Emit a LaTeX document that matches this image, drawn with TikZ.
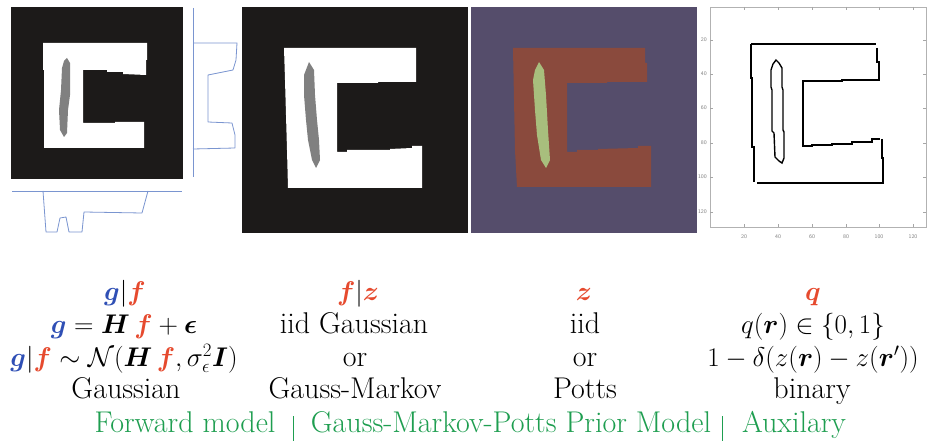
\RequirePackage{fix-cm}
\documentclass[tikz,border=0pt]{standalone}
\usepackage{amsmath,bm}
\definecolor{imgblack}{HTML}{1C1A19}
\definecolor{bargrey}{HTML}{808080}
\definecolor{plum}{HTML}{554D6B}
\definecolor{brick}{HTML}{8A4A3D}
\definecolor{sage}{HTML}{A8BE7D}
\definecolor{gblue}{HTML}{2F4FB5}
\definecolor{fred}{HTML}{E64A2E}
\definecolor{tgreen}{HTML}{1E9E50}
\definecolor{proj}{HTML}{7A95D0}
\tikzset{
  txt/.style={inner sep=0pt, anchor=base, font=\fontsize{30}{34}\selectfont},
  mtxt/.style={inner sep=0pt, anchor=base, font=\fontsize{27}{32}\selectfont},
  gtxt/.style={txt, text=tgreen},
  tick/.style={draw=gray!70, line width=0.5pt},
  ticklab/.style={inner sep=0pt, font=\sffamily\fontsize{5.5}{6}\selectfont, text=gray},
  projline/.style={draw=proj, line width=0.8pt, line join=round},
  contour/.style={draw=black, line width=1.7pt, line join=miter},
  sepline/.style={draw=tgreen, line width=0.8pt}
}
\begin{document}
\begin{tikzpicture}[x=1pt,y=-1pt]
\useasboundingbox (0,0) rectangle (927,441);
\fill[white] (0,0) rectangle (927,441);

% ---------- image 1 ----------
\fill[imgblack] (11,7) rectangle (183,179);
\fill[white] (43,43) -- (147,43) -- (147,60) -- (146,60) -- (146,75) -- (123,74) -- (123,72) -- (107,72) -- (107,70) -- (83,70) -- (83,123) -- (115,123) -- (115,122) -- (144,122) -- (144,148) -- (44,148) -- (44,70) -- (43,70) -- cycle;
\fill[bargrey] (67,58) -- (70,63) -- (70,95) -- (68,110) -- (67,133) -- (64,137) -- (60,130) -- (59,110) -- (61,90) -- (62,68) -- (64,61) -- cycle;
% projections
\draw[projline] (193,8) -- (193,177);
\draw[projline] (193,43) -- (237,43) -- (236,60) -- (233,70) -- (208,75) -- (208,122) -- (232,123) -- (235,135) -- (235,148) -- (193,149);
\draw[projline] (12,191) -- (182,191);
\draw[projline] (43,191) -- (46,232) -- (57,232) -- (60,218) -- (66,217) -- (69,232) -- (82,232) -- (84,212) -- (142,213) -- (148,191);

% ---------- image 2 ----------
\fill[imgblack] (242,7) rectangle (468,233);
\fill[white] (284,48) -- (416,48) -- (416,82) -- (378,82) -- (378,83) -- (337,83) -- (337,152) -- (347,152) -- (347,150) -- (390,150) -- (390,149) -- (412,148) -- (412,146) -- (422,146) -- (422,188) -- (288,188) -- (287,150) -- (285,80) -- cycle;
\fill[bargrey] (309,62) -- (314,70) -- (315,95) -- (317,120) -- (319,140) -- (320,160) -- (316,168) -- (312,160) -- (308,140) -- (306,120) -- (304,95) -- (304,75) -- cycle;

% ---------- image 3 ----------
\fill[plum] (471,7) rectangle (697,233);
\fill[brick] (513,48) -- (645,48) -- (645,63) -- (647,63) -- (647,82) -- (607,82) -- (607,83) -- (567,83) -- (567,152) -- (577,152) -- (577,150) -- (598,150) -- (598,149) -- (638,148) -- (638,146) -- (651,146) -- (651,187) -- (517,187) -- (515,150) -- cycle;
\fill[sage] (539,62) -- (544,70) -- (546,95) -- (548,130) -- (550,160) -- (546,168) -- (541,160) -- (537,135) -- (535,110) -- (533,80) -- (535,70) -- cycle;

% ---------- image 4 (plot) ----------
\draw[gray!60, line width=0.6pt] (710,7) rectangle (926,227);
\foreach \yy/\lab in {40/20,74/40,108/60,143/80,177/100,212/120}{
  \draw[tick] (710,\yy) -- (713,\yy);
  \draw[tick] (926,\yy) -- (923,\yy);
  \node[ticklab, anchor=east] at (707,\yy) {\lab};
}
\foreach \xx/\lab in {744/20,778/40,812/60,846/80,879/100,913/120}{
  \draw[tick] (\xx,227) -- (\xx,224);
  \draw[tick] (\xx,7) -- (\xx,10);
  \node[ticklab] at (\xx,237) {\lab};
}
\draw[contour] (751,44) -- (876,44);
\draw[contour] (877,48) -- (877,62) -- (879,62) -- (879,80) -- (842,80) -- (842,81) -- (803,81) -- (803,146) -- (812,146) -- (812,145) -- (832,145) -- (832,144) -- (852,144) -- (852,142) -- (872,142) -- (872,139) -- (880,139);
\draw[contour] (882,139) -- (882,158) -- (883,158) -- (883,183) -- (757,183);
\draw[contour] (754,182) -- (754,147) -- (752,147) -- (752,78) -- (751,78) -- (751,44);
\draw[contour, line width=1.4pt] (776,60) -- (779,63) -- (782,68) -- (782,87) -- (783,90) -- (783,130) -- (784,132) -- (784,158) -- (782,163) -- (779,161) -- (775,157) -- (774,133) -- (772,131) -- (772,90) -- (771,87) -- (771,70) -- (773,64) -- cycle;

% ---------- text table ----------
\node[mtxt] (c1r1) at (125,300) {$\textcolor{gblue}{\bm g}|\textcolor{fred}{\bm f}$};
\node[mtxt] (c1r2) at (124,333) {$\textcolor{gblue}{\bm g} = \bm{H}\,\textcolor{fred}{\bm f} + \bm{\epsilon}$};
\node[mtxt] (c1r3) at (124,366) {$\textcolor{gblue}{\bm g}|\textcolor{fred}{\bm f} \sim \mathcal{N}(\bm{H}\,\textcolor{fred}{\bm f},\sigma_\epsilon^2\bm{I})$};
\node[txt] (c1r4) at (126,398) {Gaussian};

\node[mtxt] (c2r1) at (358,300) {$\textcolor{fred}{\bm f}|\textcolor{fred}{\bm z}$};
\node[txt] (c2r2) at (354,333) {iid Gaussian};
\node[txt] (c2r3) at (355,366) {or};
\node[txt] (c2r4) at (355,398) {Gauss-Markov};

\node[mtxt] (c3r1) at (584,300) {$\textcolor{fred}{\bm z}$};
\node[txt] (c3r2) at (585,333) {iid};
\node[txt] (c3r3) at (585,366) {or};
\node[txt] (c3r4) at (585,398) {Potts};

\node[mtxt] (c4r1) at (813,300) {$\textcolor{fred}{\bm q}$};
\node[mtxt] (c4r2) at (813,333) {$q(\bm r)\in\{0,1\}$};
\node[mtxt] (c4r3) at (813,366) {$1-\delta(z(\bm r)-z(\bm r'))$};
\node[txt] (c4r4) at (812,398) {binary};

% ---------- green caption ----------
\node[gtxt] (fm) at (185,432) {Forward model};
\node[gtxt] (gm) at (511,432) {Gauss-Markov-Potts Prior Model};
\node[gtxt] (ax) at (794,432) {Auxilary};
\coordinate (s1t) at (293,416);
\coordinate (s1b) at (293,441);
\coordinate (s2t) at (722,416);
\coordinate (s2b) at (722,441);
\draw[sepline] (s1t) -- (s1b);
\draw[sepline] (s2t) -- (s2b);
\end{tikzpicture}
\end{document}
